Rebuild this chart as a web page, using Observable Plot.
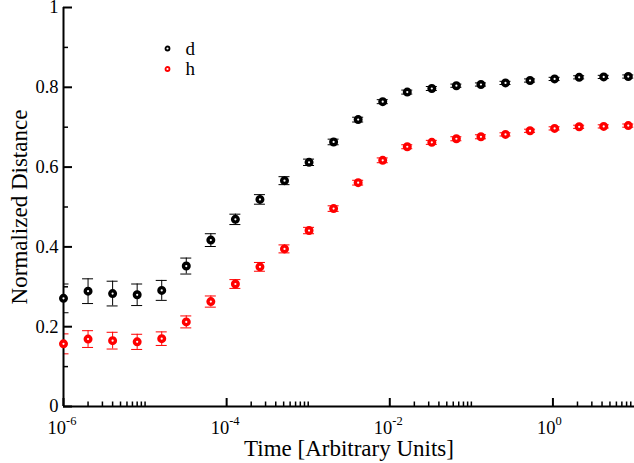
<!DOCTYPE html>
<html><head><meta charset="utf-8">
<script src="https://cdn.jsdelivr.net/npm/d3@7"></script>
<script src="https://cdn.jsdelivr.net/npm/@observablehq/plot@0.6"></script>
<style>html,body{margin:0;padding:0;background:#fff} svg{display:block}</style>
</head><body><div id="chart"></div>
<script>
const times = [1e-6, 2e-6, 4e-6, 8e-6, 1.6e-5, 3.2e-5, 6.4e-5, 1.28e-4, 2.56e-4, 5.12e-4,
  1.024e-3, 2.048e-3, 4.096e-3, 8.192e-3, 1.6384e-2, 3.2768e-2, 6.5536e-2, 0.131072,
  0.262144, 0.524288, 1.048576, 2.097152, 4.194304, 8.388608];
const dValues = [0.271, 0.289, 0.283, 0.280, 0.291, 0.352, 0.417, 0.469, 0.519, 0.566,
  0.612, 0.663, 0.719, 0.764, 0.788, 0.797, 0.804, 0.807, 0.811, 0.817, 0.821, 0.825, 0.826, 0.827];
const dErrors = [0.036, 0.031, 0.031, 0.027, 0.025, 0.020, 0.016, 0.013, 0.012, 0.010,
  0.008, 0.007, 0.006, 0.005, 0.005, 0.005, 0.004, 0.004, 0.004, 0.004, 0.004, 0.004, 0.004, 0.004];
const hValues = [0.157, 0.169, 0.165, 0.162, 0.170, 0.212, 0.263, 0.307, 0.350, 0.395,
  0.441, 0.496, 0.561, 0.617, 0.651, 0.662, 0.671, 0.676, 0.682, 0.691, 0.697, 0.701, 0.702, 0.704];
const hErrors = [0.025, 0.021, 0.021, 0.019, 0.017, 0.015, 0.014, 0.011, 0.011, 0.010,
  0.008, 0.007, 0.006, 0.006, 0.005, 0.005, 0.005, 0.005, 0.004, 0.004, 0.004, 0.004, 0.004, 0.004];
const seriesNames = ["d", "h"];
const seriesColors = ["#000000", "#ff0000"];
const xMajorTicks = [1e-6, 1e-4, 1e-2, 1];
const xTickBase = "10";
const xTickExponents = ["-6", "-4", "-2", "0"];
const xMinorTicks = [
  2e-6, 3e-6, 4e-6, 5e-6, 6e-6, 7e-6, 8e-6, 9e-6, 1e-5,
  2e-4, 3e-4, 4e-4, 5e-4, 6e-4, 7e-4, 8e-4, 9e-4, 1e-3,
  2e-2, 3e-2, 4e-2, 5e-2, 6e-2, 7e-2, 8e-2, 9e-2, 1e-1,
  2, 3, 4, 5, 6, 7, 8, 9];
const yMajorTicks = [0, 0.2, 0.4, 0.6, 0.8, 1];
const yTickLabels = ["0", "0.2", "0.4", "0.6", "0.8", "1"];
const yMinorTicks = [0.1, 0.3, 0.5, 0.7, 0.9];
const xTitle = "Time [Arbitrary Units]";
const yTitle = "Normalized Distance";

const rows = [];
[[dValues, dErrors], [hValues, hErrors]].forEach(([vals, errs], s) => {
  vals.forEach((v, i) => rows.push({t: times[i], v, lo: v - errs[i], hi: v + errs[i], s: seriesNames[s]}));
});
const color = (name) => seriesColors[seriesNames.indexOf(name)];

const legendMarks = seriesNames.flatMap((name, i) => [
  Plot.dot([name], {frameAnchor: "top-left", dx: 104, dy: 41 + 20.5 * i, r: 2, stroke: color(name), strokeWidth: 1.8, fill: "#fff"}),
  Plot.text([name], {frameAnchor: "top-left", text: d => d, textAnchor: "start", lineAnchor: "middle", dx: 122, dy: 41 + 20.5 * i, fontSize: 19, fill: "#000"})
]);

const chart = Plot.plot({
  width: 634, height: 463,
  marginLeft: 63, marginRight: 0, marginTop: 7, marginBottom: 57,
  x: {type: "log", domain: [1e-6, 10], axis: null},
  y: {domain: [0, 1], axis: null},
  style: {fontFamily: "'Liberation Serif', 'Times New Roman', serif", background: "#fff", color: "#000", overflow: "visible"},
  marks: [
    // error bars
    Plot.ruleX(rows, {x: "t", y1: "lo", y2: "hi", stroke: d => color(d.s), strokeWidth: 1, clip: "frame"}),
    Plot.ruleY(rows, {x1: "t", x2: "t", y: "lo", insetLeft: -5.5, insetRight: -5.5, stroke: d => color(d.s), strokeWidth: 1, clip: "frame"}),
    Plot.ruleY(rows, {x1: "t", x2: "t", y: "hi", insetLeft: -5.5, insetRight: -5.5, stroke: d => color(d.s), strokeWidth: 1, clip: "frame"}),
    // axes lines
    Plot.ruleX([1e-6], {x: d => d, y1: 0, y2: 1, stroke: "#000", strokeWidth: 2}),
    Plot.ruleY([0], {y: d => d, x1: 1e-6, x2: 10, stroke: "#000", strokeWidth: 2}),
    // ticks (inward)
    Plot.ruleX(xMajorTicks, {x: d => d, y1: 0, y2: 0, insetBottom: 8, stroke: "#000", strokeWidth: 2}),
    Plot.ruleX(xMinorTicks, {x: d => d, y1: 0, y2: 0, insetBottom: 4.5, stroke: "#000", strokeWidth: 1.5}),
    Plot.ruleY(yMajorTicks, {y: d => d, x1: 1e-6, x2: 1e-6, insetRight: -9, stroke: "#000", strokeWidth: 2}),
    Plot.ruleY(yMinorTicks, {y: d => d, x1: 1e-6, x2: 1e-6, insetRight: -5, stroke: "#000", strokeWidth: 1.5}),
    // tick labels
    Plot.text(yMajorTicks, {y: d => d, frameAnchor: "left", text: (d, i) => yTickLabels[i], textAnchor: "end", lineAnchor: "middle", dx: -5, fontSize: 18.5, fill: "#000"}),
    Plot.text(xMajorTicks, {x: d => d, frameAnchor: "bottom", text: () => xTickBase, textAnchor: "end", lineAnchor: "middle", dx: 2.5, dy: 22, fontSize: 18.5, fill: "#000"}),
    Plot.text(xMajorTicks, {x: d => d, frameAnchor: "bottom", text: (d, i) => xTickExponents[i], textAnchor: "start", lineAnchor: "middle", dx: 2.5, dy: 14.5, fontSize: 12.5, fill: "#000"}),
    // titles
    Plot.text([xTitle], {frameAnchor: "bottom", text: d => d, textAnchor: "middle", lineAnchor: "middle", dy: 42, fontSize: 23, fill: "#000"}),
    Plot.text([yTitle], {frameAnchor: "left", text: d => d, textAnchor: "middle", lineAnchor: "middle", rotate: -90, dx: -44, fontSize: 23, fill: "#000"}),
    // data markers
    Plot.dot(rows, {x: "t", y: "v", r: 2.8, stroke: d => color(d.s), strokeWidth: 3.4, fill: "#fff"}),
    ...legendMarks
  ]
});
document.getElementById("chart").appendChild(chart);
</script>
</body></html>
